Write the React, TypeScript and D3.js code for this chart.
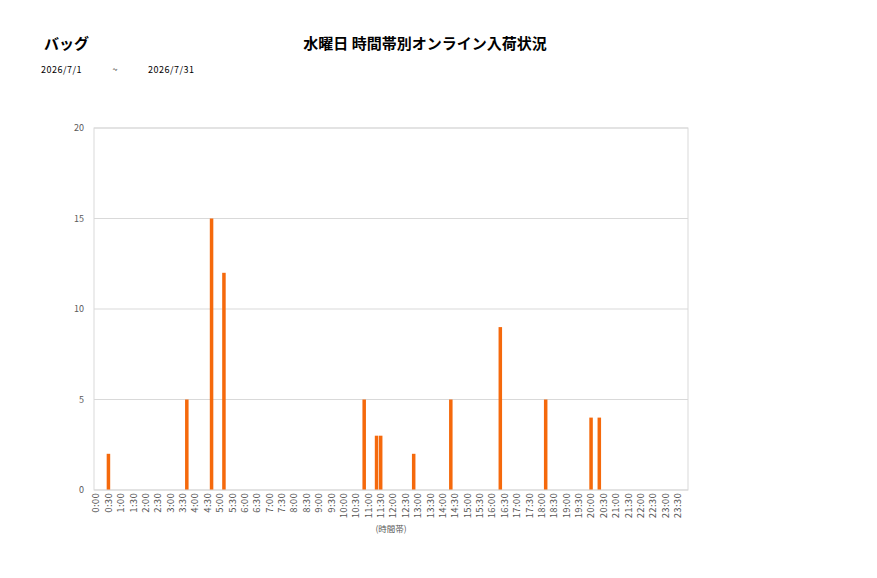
import React, { useEffect, useRef } from "react";
import * as d3 from "d3";

const slotLabels: string[] = [];
for (let h = 0; h < 24; h++) {
  for (let m = 0; m < 60; m += 10) {
    slotLabels.push(`${h}:${m === 0 ? "00" : String(m)}`);
  }
}
const tickLabels: string[] = slotLabels.filter((_, i) => i % 3 === 0);

const barTimes = ["0:30", "3:40", "4:40", "5:10", "10:50", "11:20", "11:30", "12:50", "14:20", "16:20", "18:10", "20:00", "20:20"];
const barValues = [2, 5, 15, 12, 5, 3, 3, 2, 5, 9, 5, 4, 4];
const yTicks = [0, 5, 10, 15, 20];

const category = "バッグ";
const title = "水曜日 時間帯別オンライン入荷状況";
const dateFrom = "2026/7/1";
const dateTo = "2026/7/31";
const xAxisTitle = "(時間帯)";

export default function App() {
  const ref = useRef<SVGSVGElement>(null);
  useEffect(() => {
    const svg = d3.select(ref.current);
    svg.selectAll("*").remove();
    const W = 877, H = 578;
    const left = 94, right = 688, top = 128, bottom = 490;
    const font = "'Noto Sans CJK JP', 'Noto Sans', sans-serif";

    svg.append("rect").attr("width", W).attr("height", H).attr("fill", "#fff");

    const x = d3.scaleBand<string>().domain(slotLabels).range([left, right]).paddingInner(0.15).paddingOuter(0.075);
    const y = d3.scaleLinear().domain([0, 20]).range([bottom, top]);

    // gridlines
    svg.append("g").selectAll("line").data(yTicks.filter(t => t > 0)).join("line")
      .attr("x1", left).attr("x2", right)
      .attr("y1", d => y(d)).attr("y2", d => y(d))
      .attr("stroke", "#d9d9d9").attr("stroke-width", 1);
    // border
    svg.append("rect").attr("x", left).attr("y", top).attr("width", right - left).attr("height", bottom - top)
      .attr("fill", "none").attr("stroke", "#d9d9d9").attr("stroke-width", 1);

    // bars
    const data = barTimes.map((t, i) => ({ t, v: barValues[i] }));
    svg.append("g").selectAll("rect").data(data).join("rect")
      .attr("x", d => x(d.t)!)
      .attr("width", x.bandwidth())
      .attr("y", d => y(d.v))
      .attr("height", d => bottom - y(d.v))
      .attr("fill", "#f5690c");

    // x axis line
    svg.append("line").attr("x1", left).attr("x2", right).attr("y1", bottom).attr("y2", bottom)
      .attr("stroke", "#d9d9d9");

    // y tick labels
    svg.append("g").selectAll("text").data(yTicks).join("text")
      .attr("x", 84).attr("y", d => y(d)).attr("dy", "0.35em")
      .attr("text-anchor", "end").attr("font-size", 9).attr("fill", "#595959")
      .attr("font-family", font).text(d => d);

    // x tick labels
    const xc = (s: string) => x(s)! + x.bandwidth() / 2;
    svg.append("g").selectAll("text").data(tickLabels).join("text")
      .attr("transform", d => `translate(${xc(d)},${bottom + 3}) rotate(-90)`)
      .attr("dy", "0.35em")
      .attr("text-anchor", "end").attr("font-size", 9.5).attr("fill", "#595959")
      .attr("letter-spacing", 0.3)
      .attr("font-family", font).text(d => d);

    svg.append("text").attr("x", 391).attr("y", 532).attr("text-anchor", "middle")
      .attr("font-size", 8.5).attr("fill", "#595959").attr("font-family", font).text(xAxisTitle);

    // headers
    svg.append("text").attr("x", 44).attr("y", 49).attr("font-size", 15).attr("font-weight", "bold")
      .attr("fill", "#000").attr("font-family", font).text(category);
    svg.append("text").attr("x", 425).attr("y", 49).attr("text-anchor", "middle").attr("font-size", 15)
      .attr("font-weight", "bold").attr("fill", "#000").attr("font-family", font).text(title);
    svg.append("text").attr("x", 41).attr("y", 73).attr("font-size", 9).attr("letter-spacing", 0.5).attr("fill", "#000")
      .attr("font-family", font).text(dateFrom);
    svg.append("text").attr("x", 115).attr("y", 73).attr("text-anchor", "middle").attr("font-size", 9).attr("fill", "#000")
      .attr("font-family", font).text("~");
    svg.append("text").attr("x", 148).attr("y", 73).attr("font-size", 9).attr("letter-spacing", 0.5).attr("fill", "#000")
      .attr("font-family", font).text(dateTo);
  }, []);
  return (
    <div style={{ position: "absolute", left: 0, top: 0 }}>
      <svg ref={ref} width={877} height={578} style={{ display: "block" }} />
    </div>
  );
}
